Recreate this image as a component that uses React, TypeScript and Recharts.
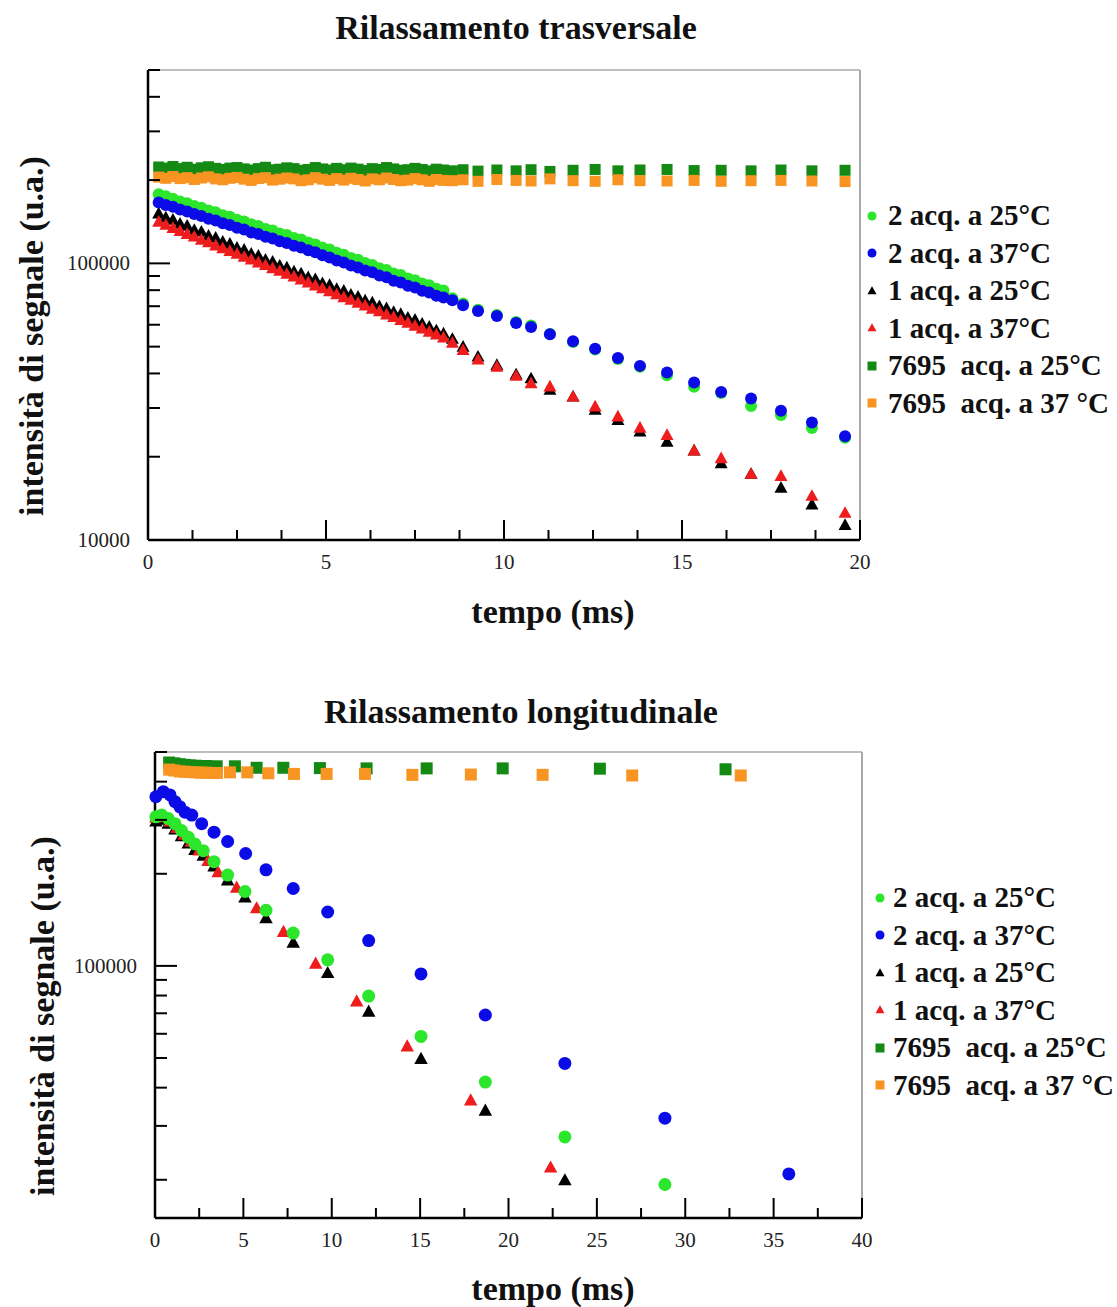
import React from 'react';
import { ScatterChart, Scatter, XAxis, YAxis, ReferenceLine, Legend } from 'recharts';

const FONT = '"Liberation Serif", "Times New Roman", serif';

const GREEN = '#2be62b';
const BLUE = '#0b0be8';
const BLACK = '#000000';
const RED = '#ee1c1c';
const DARK_GREEN = '#148a14';
const ORANGE = '#f89422';

// Rilassamento trasversale: all series share the same time points (ms)
const T2_TIME = [
  0.3, 0.5, 0.7, 0.9, 1.1, 1.3, 1.5, 1.7, 1.9, 2.1, 2.3, 2.5, 2.7, 2.9, 3.1, 3.3, 3.5, 3.7, 3.9, 4.1, 4.3,
  4.5, 4.7, 4.9, 5.1, 5.3, 5.5, 5.7, 5.9, 6.1, 6.3, 6.5, 6.7, 6.9, 7.1, 7.3, 7.5, 7.7, 7.9, 8.1, 8.3,
  8.55, 8.85, 9.27, 9.8, 10.34, 10.76, 11.29, 11.94, 12.56, 13.2, 13.82, 14.58, 15.34, 16.1, 16.94, 17.78, 18.65, 19.58,
];
const T2_2ACQ_25 = [
  177600, 174800, 171200, 167500, 165000, 161200, 158900, 155200, 152900, 149400, 147300, 143800, 141800, 138400,
  136600, 133200, 131500, 128300, 126700, 123500, 121900, 119000, 117100, 114000, 112200, 109200, 107500, 104600,
  103000, 100300, 98700, 96100, 94600, 92000, 90700, 88200, 86900, 84500, 83300, 80900, 79800,
  74800, 71600, 68000, 65000, 61400, 59600, 55600, 52000, 48800, 45100, 42300, 39400, 35800, 34000, 30500, 28300, 25400, 23400,
];
const T2_2ACQ_37 = [
  166000, 162700, 160100, 156600, 154100, 150700, 148400, 145000, 142900, 139600, 137600, 134400, 132500, 129400,
  127600, 124700, 122900, 120100, 118400, 115700, 114000, 111500, 109600, 106900, 105100, 102500, 100800, 98200,
  96700, 94200, 92800, 90300, 89000, 86600, 85300, 83000, 81800, 79600, 78500, 76400, 75300,
  73500, 70500, 67300, 64500, 60900, 58900, 55400, 52300, 49100, 45500, 42600, 40300, 37100, 34300, 32500, 29300, 26600, 23700,
];
const T2_1ACQ_25 = [
  151000, 146200, 143500, 138600, 136400, 131800, 129900, 125600, 123400, 119400, 117500, 113600, 111800, 108000,
  106300, 102800, 101200, 97900, 96300, 93200, 91700, 88800, 87500, 84600, 83300, 80600, 79400, 76800,
  75600, 73200, 72000, 69800, 68700, 66500, 65500, 63400, 62400, 60400, 58900, 57100, 55600,
  53200, 49800, 45900, 42800, 39600, 38300, 34800, 32900, 29500, 27100, 24600, 22600, 21000, 18900, 17300, 15400, 13400, 11300,
];
const T2_1ACQ_37 = [
  141000, 137400, 133800, 130700, 127400, 124600, 121500, 118800, 115800, 113200, 110500, 108000, 105300, 103000,
  100400, 98300, 95800, 93700, 91400, 89400, 87200, 85100, 82900, 81000, 79000, 77200, 75300, 73600,
  71800, 70200, 68400, 66900, 65200, 63800, 62200, 60800, 59300, 58000, 56500, 55200, 53800,
  51500, 48500, 44800, 42200, 39100, 36800, 35800, 32900, 30300, 27900, 25400, 23900, 21000, 19700, 17300, 17000, 14400, 12500,
];
const T2_7695_25 = [
  223000, 221000, 224000, 220000, 222500, 219000, 221500, 223500, 220500, 218500, 221000, 222000, 219500, 217500,
  220000, 222500, 218000, 219000, 221500, 220000, 217000, 218500, 222000, 219500, 217500, 220500, 218000, 221000,
  219000, 216500, 220000, 218500, 222000, 219500, 217000, 218000, 220500, 218500, 216000, 219000, 217500,
  216000, 218000, 215500, 217500, 216000, 218000, 215000, 217000, 218500, 216000, 217500, 218500, 216500, 217000, 216000, 217500, 216000, 217000,
];
const T2_7695_37 = [
  205000, 203000, 206000, 202500, 204000, 201000, 203500, 205500, 202000, 200500, 203000, 204500, 201500, 199500,
  202500, 204000, 200000, 201500, 203500, 202000, 199000, 200500, 204000, 201500, 199500, 202500, 200000, 203000,
  201000, 198500, 202000, 200500, 203500, 201000, 199000, 200000, 202500, 200500, 198000, 201000, 199500,
  199000, 200500, 198000, 201000, 199500, 198500, 202000, 199000, 198000, 200500, 199000, 198500, 199500, 198000, 199000, 199500, 198500, 197500,
];

// Rilassamento longitudinale: each series has its own time points (ms)
const T1_2ACQ_25_TIME = [0.05, 0.38, 0.75, 1.13, 1.5, 1.88, 2.26, 2.73, 3.34, 4.11, 5.09, 6.28, 7.82, 9.77, 12.09, 15.05, 18.69, 23.19, 28.85];
const T1_2ACQ_25 = [307000, 311000, 303000, 291500, 277000, 263400, 250200, 237900, 219000, 198000, 175000, 152000, 128000, 104700, 79700, 58800, 41700, 27600, 19300];
const T1_2ACQ_37_TIME = [0.05, 0.47, 0.85, 1.13, 1.41, 1.7, 2.08, 2.64, 3.34, 4.11, 5.13, 6.28, 7.82, 9.77, 12.09, 15.05, 18.69, 23.19, 28.85, 35.86];
const T1_2ACQ_37 = [357000, 371000, 362000, 344000, 331000, 318000, 311000, 291500, 273500, 255000, 233000, 206000, 179000, 150000, 121000, 94100, 69100, 48000, 31800, 20900];
const T1_1ACQ_25_TIME = [0.05, 0.38, 0.75, 1.13, 1.5, 1.88, 2.26, 2.73, 3.34, 4.11, 5.09, 6.28, 7.82, 9.77, 12.09, 15.05, 18.69, 23.19];
const T1_1ACQ_25 = [296000, 300000, 291000, 279000, 265000, 251000, 239000, 229000, 211000, 190000, 167000, 143000, 119000, 94600, 70800, 49600, 33600, 19900];
const T1_1ACQ_37_TIME = [0.05, 0.45, 0.85, 1.25, 1.65, 2.05, 2.5, 3.0, 3.57, 4.62, 5.75, 7.27, 9.09, 11.41, 14.27, 17.86, 22.38];
const T1_1ACQ_37 = [305000, 308000, 296000, 282000, 268000, 254000, 238000, 220000, 202000, 180000, 154000, 129000, 101500, 76400, 54500, 36300, 21900];
const T1_7695_25_TIME = [0.8, 1.1, 1.4, 1.7, 2.0, 2.3, 2.6, 2.9, 3.2, 3.49, 4.52, 5.75, 7.26, 9.33, 11.97, 15.37, 19.67, 25.17, 32.28];
const T1_7695_25 = [462000, 459000, 456000, 454000, 452000, 451000, 449000, 450000, 447000, 449000, 449000, 444000, 444000, 443000, 442000, 442000, 442000, 441000, 439000];
const T1_7695_37_TIME = [0.8, 1.1, 1.4, 1.7, 2.0, 2.3, 2.6, 2.9, 3.2, 3.5, 4.24, 5.22, 6.41, 7.86, 9.71, 11.88, 14.56, 17.87, 21.93, 27.0, 33.14];
const T1_7695_37 = [438000, 435000, 432000, 431000, 430000, 429000, 428000, 428000, 427000, 427000, 429000, 429000, 426000, 424000, 424000, 424000, 421000, 422000, 421000, 419000, 419000];

const T2_X_TICKS = [0, 1.25, 2.5, 3.75, 5, 6.25, 7.5, 8.75, 10, 11.25, 12.5, 13.75, 15, 16.25, 17.5, 18.75, 20];
const T1_X_TICKS = [0, 2.5, 5, 7.5, 10, 12.5, 15, 17.5, 20, 22.5, 25, 27.5, 30, 32.5, 35, 37.5, 40];
const T2_Y_TICKS = [10000, 20000, 30000, 40000, 50000, 60000, 70000, 80000, 90000, 100000, 200000, 300000, 400000, 500000];
const T1_Y_TICKS = [20000, 30000, 40000, 50000, 60000, 70000, 80000, 90000, 100000, 200000, 300000, 400000, 500000];
const T2_Y_LABELS = [10000, 100000];
const T1_Y_LABELS = [100000];

type Kind = 'circle' | 'triangle' | 'square';

const SERIES: { name: string; kind: Kind; color: string }[] = [
  { name: '2 acq. a 25°C', kind: 'circle', color: GREEN },
  { name: '2 acq. a 37°C', kind: 'circle', color: BLUE },
  { name: '1 acq. a 25°C', kind: 'triangle', color: BLACK },
  { name: '1 acq. a 37°C', kind: 'triangle', color: RED },
  { name: '7695  acq. a 25°C', kind: 'square', color: DARK_GREEN },
  { name: '7695  acq. a 37 °C', kind: 'square', color: ORANGE },
];

const zip = (xs: number[], ys: number[]) => xs.map((x, i) => ({ x, y: ys[i] }));

function mark(kind: Kind, size: number, fill: string, cx: number, cy: number) {
  if (kind === 'circle') return <circle cx={cx} cy={cy} r={size / 2} fill={fill} />;
  if (kind === 'square') {
    return <rect x={cx - size / 2} y={cy - size / 2} width={size} height={size} fill={fill} />;
  }
  const h = size * 0.9;
  return (
    <polygon
      points={`${cx},${cy - h * 0.6} ${cx - size / 2},${cy + h * 0.4} ${cx + size / 2},${cy + h * 0.4}`}
      fill={fill}
    />
  );
}

const shape = (kind: Kind, size: number, color: string) => (p: any) => mark(kind, size, color, p.cx, p.cy);

// inward ticks, long ones labelled
const yTick = (labels: number[]) => (p: any) => {
  const v = p.payload.value;
  const major = labels.includes(v);
  return (
    <g>
      <line x1={p.x} x2={p.x + (major ? 22 : 12)} y1={p.y} y2={p.y} stroke="#000" strokeWidth={2} />
      {major && (
        <text x={p.x - 18} y={p.y + 7} textAnchor="end" fontSize={21} fontFamily={FONT} fill="#222">
          {v}
        </text>
      )}
    </g>
  );
};

const xTick = (p: any) => {
  const v = p.payload.value;
  const major = v % 5 === 0;
  return (
    <g>
      <line x1={p.x} x2={p.x} y1={p.y} y2={p.y - (major ? 20 : 10)} stroke="#000" strokeWidth={2} />
      {major && (
        <text x={p.x} y={p.y + 29} textAnchor="middle" fontSize={21} fontFamily={FONT} fill="#222">
          {v}
        </text>
      )}
    </g>
  );
};

function LegendBox({ markSize, gap }: { markSize: number; gap: number }) {
  return (
    <div style={{ fontFamily: FONT, fontWeight: 'bold', fontSize: 29, color: '#111' }}>
      {SERIES.map((s) => (
        <div key={s.name} style={{ display: 'flex', alignItems: 'center', height: 37.5, whiteSpace: 'pre' }}>
          <svg width={14} height={14} style={{ marginRight: gap, flex: 'none' }}>
            {mark(s.kind, markSize, s.color, 7, 7)}
          </svg>
          <span>{s.name}</span>
        </div>
      ))}
    </div>
  );
}

const titleStyle = { fontFamily: FONT, fontWeight: 'bold' as const, fontSize: 34, fill: '#111' };

function TransverseChart() {
  const sets = [T2_2ACQ_25, T2_2ACQ_37, T2_1ACQ_25, T2_1ACQ_37, T2_7695_25, T2_7695_37];
  const order = [2, 3, 0, 1, 4, 5];
  const sizes: Record<Kind, number> = { circle: 12, triangle: 13, square: 11 };
  return (
    <ScatterChart width={1117} height={650} margin={{ top: 70, right: 257, bottom: 0, left: 0 }}>
      <XAxis
        type="number"
        dataKey="x"
        domain={[0, 20]}
        ticks={T2_X_TICKS}
        interval={0}
        tickSize={0}
        tickMargin={0}
        tickLine={false}
        tick={xTick}
        height={110}
        axisLine={{ stroke: '#000', strokeWidth: 2.5 }}
        label={{
          content: () => (
            <text x={553} y={611} textAnchor="middle" dominantBaseline="central" {...titleStyle}>
              tempo (ms)
            </text>
          ),
        }}
      />
      <YAxis
        type="number"
        dataKey="y"
        scale="log"
        domain={[10000, 500000]}
        ticks={T2_Y_TICKS}
        interval={0}
        tickSize={0}
        tickMargin={0}
        tickLine={false}
        tick={yTick(T2_Y_LABELS)}
        width={148}
        axisLine={{ stroke: '#000', strokeWidth: 2.5 }}
        label={{
          content: () => (
            <text
              x={31}
              y={336}
              transform="rotate(-90, 31, 336)"
              textAnchor="middle"
              dominantBaseline="central"
              {...titleStyle}
            >
              intensità di segnale (u.a.)
            </text>
          ),
        }}
      />
      <ReferenceLine y={500000} stroke="#a8a8a8" strokeWidth={1.5} />
      <ReferenceLine x={20} stroke="#a8a8a8" strokeWidth={2} />
      {order.map((i) => (
        <Scatter
          key={SERIES[i].name}
          name={SERIES[i].name}
          data={zip(T2_TIME, sets[i])}
          shape={shape(SERIES[i].kind, sizes[SERIES[i].kind], SERIES[i].color)}
          isAnimationActive={false}
        />
      ))}
      <Legend
        layout="vertical"
        align="center"
        verticalAlign="middle"
        wrapperStyle={{ left: 865, top: 197, width: 250 }}
        content={() => <LegendBox markSize={9} gap={9} />}
      />
    </ScatterChart>
  );
}

function LongitudinalChart() {
  const sets = [
    zip(T1_2ACQ_25_TIME, T1_2ACQ_25),
    zip(T1_2ACQ_37_TIME, T1_2ACQ_37),
    zip(T1_1ACQ_25_TIME, T1_1ACQ_25),
    zip(T1_1ACQ_37_TIME, T1_1ACQ_37),
    zip(T1_7695_25_TIME, T1_7695_25),
    zip(T1_7695_37_TIME, T1_7695_37),
  ];
  const order = [2, 3, 0, 1, 4, 5];
  const sizes: Record<Kind, number> = { circle: 13, triangle: 13.5, square: 12 };
  return (
    <ScatterChart width={1117} height={657} margin={{ top: 102, right: 255, bottom: 0, left: 0 }}>
      <XAxis
        type="number"
        dataKey="x"
        domain={[0, 40]}
        ticks={T1_X_TICKS}
        interval={0}
        tickSize={0}
        tickMargin={0}
        tickLine={false}
        tick={xTick}
        height={89}
        axisLine={{ stroke: '#000', strokeWidth: 2.5 }}
        label={{
          content: () => (
            <text x={553} y={638} textAnchor="middle" dominantBaseline="central" {...titleStyle}>
              tempo (ms)
            </text>
          ),
        }}
      />
      <YAxis
        type="number"
        dataKey="y"
        scale="log"
        domain={[15000, 500000]}
        ticks={T1_Y_TICKS}
        interval={0}
        tickSize={0}
        tickMargin={0}
        tickLine={false}
        tick={yTick(T1_Y_LABELS)}
        width={155}
        axisLine={{ stroke: '#000', strokeWidth: 2.5 }}
        label={{
          content: () => (
            <text
              x={42}
              y={366}
              transform="rotate(-90, 42, 366)"
              textAnchor="middle"
              dominantBaseline="central"
              {...titleStyle}
            >
              intensità di segnale (u.a.)
            </text>
          ),
        }}
      />
      <ReferenceLine y={500000} stroke="#a8a8a8" strokeWidth={1.5} />
      <ReferenceLine x={40} stroke="#a8a8a8" strokeWidth={2} />
      {order.map((i) => (
        <Scatter
          key={SERIES[i].name}
          name={SERIES[i].name}
          data={sets[i]}
          shape={shape(SERIES[i].kind, sizes[SERIES[i].kind], SERIES[i].color)}
          isAnimationActive={false}
        />
      ))}
      <Legend
        layout="vertical"
        align="center"
        verticalAlign="middle"
        wrapperStyle={{ left: 873, top: 229, width: 250 }}
        content={() => <LegendBox markSize={9} gap={6} />}
      />
    </ScatterChart>
  );
}

export default function App() {
  return (
    <div style={{ position: 'absolute', left: 0, top: 0, width: 1117, height: 1307, background: '#fff' }}>
      <svg width={1117} height={60} style={{ position: 'absolute', left: 0, top: 0 }}>
        <text x={516} y={39} textAnchor="middle" {...titleStyle}>
          Rilassamento trasversale
        </text>
      </svg>
      <div style={{ position: 'absolute', left: 0, top: 0 }}>
        <TransverseChart />
      </div>
      <svg width={1117} height={60} style={{ position: 'absolute', left: 0, top: 680 }}>
        <text x={521} y={43} textAnchor="middle" {...titleStyle}>
          Rilassamento longitudinale
        </text>
      </svg>
      <div style={{ position: 'absolute', left: 0, top: 650 }}>
        <LongitudinalChart />
      </div>
    </div>
  );
}
